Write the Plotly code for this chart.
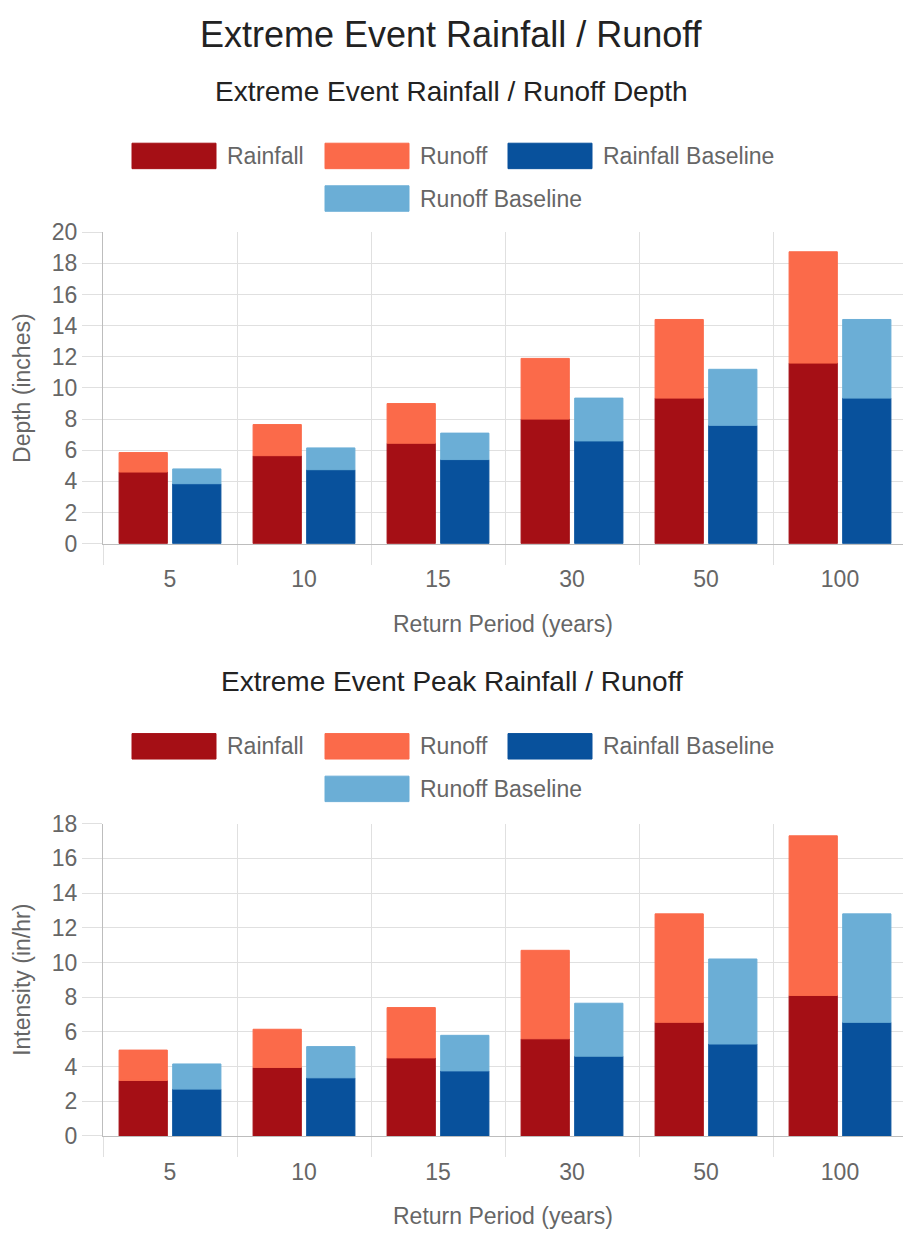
import plotly.graph_objects as go

W, H = 903, 1241

# Return periods shown along the x axis
return_periods = ["5", "10", "15", "30", "50", "100"]

# Rainfall / runoff depth (inches); runoff values are the stacked segment above rainfall
depth_rainfall = [4.6, 5.65, 6.45, 8.0, 9.35, 11.6]
depth_runoff = [1.25, 2.0, 2.55, 3.9, 5.05, 7.15]
depth_rainfall_baseline = [3.85, 4.75, 5.4, 6.6, 7.6, 9.35]
depth_runoff_baseline = [0.95, 1.4, 1.7, 2.75, 3.6, 5.05]

# Peak rainfall / runoff intensity (in/hr)
peak_rainfall = [3.2, 3.95, 4.5, 5.6, 6.55, 8.1]
peak_runoff = [1.75, 2.2, 2.9, 5.1, 6.25, 9.2]
peak_rainfall_baseline = [2.7, 3.35, 3.75, 4.6, 5.3, 6.55]
peak_runoff_baseline = [1.45, 1.8, 2.05, 3.05, 4.9, 6.25]

colors = {
    "Rainfall": "#a50f15",
    "Runoff": "#fb6a4a",
    "Rainfall Baseline": "#08519c",
    "Runoff Baseline": "#6baed6",
}

FONT = "Liberation Sans, Arial, Helvetica, sans-serif"
TEXT_GREY = "#666666"
GRID = "#e0e0e0"
AXIS_LINE = "#bdbdbd"


def px(x):
    return x / W


def py(y):
    return 1 - y / H


fig = go.Figure()


def add_panel(xa, ya, tag, rain, runoff, rain_base, runoff_base):
    fig.add_trace(go.Bar(
        x=return_periods, y=rain, name="Rainfall", offsetgroup="f" + tag,
        marker=dict(color=colors["Rainfall"], line=dict(color=colors["Rainfall"], width=1)),
        xaxis=xa, yaxis=ya, showlegend=False))
    fig.add_trace(go.Bar(
        x=return_periods, y=runoff, base=rain, name="Runoff", offsetgroup="f" + tag,
        marker=dict(color=colors["Runoff"], line=dict(color=colors["Runoff"], width=1)),
        xaxis=xa, yaxis=ya, showlegend=False))
    fig.add_trace(go.Bar(
        x=return_periods, y=rain_base, name="Rainfall Baseline", offsetgroup="b" + tag,
        marker=dict(color=colors["Rainfall Baseline"], line=dict(color=colors["Rainfall Baseline"], width=1)),
        xaxis=xa, yaxis=ya, showlegend=False))
    fig.add_trace(go.Bar(
        x=return_periods, y=runoff_base, base=rain_base, name="Runoff Baseline", offsetgroup="b" + tag,
        marker=dict(color=colors["Runoff Baseline"], line=dict(color=colors["Runoff Baseline"], width=1)),
        xaxis=xa, yaxis=ya, showlegend=False))


add_panel("x", "y", "1", depth_rainfall, depth_runoff, depth_rainfall_baseline, depth_runoff_baseline)
add_panel("x2", "y2", "2", peak_rainfall, peak_runoff, peak_rainfall_baseline, peak_runoff_baseline)

# Plot area geometry (pixels)
PLOT_LEFT = 103
CAT_W = 134.0
x_range = [-0.5, -0.5 + (W - PLOT_LEFT) / CAT_W]
panels = [
    dict(top=224, bottom=542, ymax=20, ytitle="Depth (inches)",
         subtitle="Extreme Event Rainfall / Runoff Depth", sub_y=80, legend_y=146),
    dict(top=828, bottom=1147, ymax=18, ytitle="Intensity (in/hr)",
         subtitle="Extreme Event Peak Rainfall / Runoff", sub_y=683, legend_y=749),
]

tick_font = dict(family=FONT, size=23, color=TEXT_GREY)

for i, p in enumerate(panels):
    sfx = "" if i == 0 else str(i + 1)
    fig.layout["xaxis" + sfx] = dict(
        type="category", domain=[px(PLOT_LEFT), 1], range=x_range,
        anchor="y" + sfx, tickson="boundaries", showgrid=True, gridcolor=GRID,
        ticks="outside", ticklen=20, tickcolor=GRID, tickfont=tick_font,
        ticklabelstandoff=15,
        showline=True, linecolor=AXIS_LINE, linewidth=1, zeroline=False,
        fixedrange=True,
    )
    fig.layout["yaxis" + sfx] = dict(
        domain=[py(p["bottom"]), py(p["top"])], range=[0, p["ymax"]], dtick=2,
        anchor="x" + sfx, showgrid=True, gridcolor=GRID, zeroline=False,
        ticks="outside", ticklen=20, tickcolor=GRID, tickfont=tick_font,
        showline=True, linecolor=AXIS_LINE, linewidth=1, fixedrange=True,
    )

annotations = []
shapes = []

# Main title
annotations.append(dict(
    text="Extreme Event Rainfall / Runoff", x=0.5, y=py(22), xref="paper", yref="paper",
    xanchor="center", yanchor="middle", showarrow=False,
    font=dict(family=FONT, size=36, color="#222222")))

legend_rows = [
    [("Rainfall", 132), ("Runoff", 325), ("Rainfall Baseline", 508)],
    [("Runoff Baseline", 325)],
]

for p in panels:
    annotations.append(dict(
        text=p["subtitle"], x=0.5, y=py(p["sub_y"]), xref="paper", yref="paper",
        xanchor="center", yanchor="middle", showarrow=False,
        font=dict(family=FONT, size=28, color="#222222")))
    annotations.append(dict(
        text=p["ytitle"], x=px(22), y=py((p["top"] + p["bottom"]) / 2),
        xref="paper", yref="paper", xanchor="center", yanchor="middle",
        textangle=-90, showarrow=False, font=tick_font))
    annotations.append(dict(
        text="Return Period (years)", x=px((PLOT_LEFT + W) / 2), y=py(p["bottom"] + 82),
        xref="paper", yref="paper", xanchor="center", yanchor="middle",
        showarrow=False, font=tick_font))
    # Legend with wide colour swatches
    for r, row in enumerate(legend_rows):
        cy = p["legend_y"] + r * 43.5
        for name, left in row:
            shapes.append(dict(
                type="rect", xref="paper", yref="paper",
                x0=px(left), x1=px(left + 84), y0=py(cy + 13), y1=py(cy - 13),
                fillcolor=colors[name], line=dict(color=colors[name], width=1)))
            annotations.append(dict(
                text=name, x=px(left + 93), y=py(cy), xref="paper", yref="paper",
                xanchor="left", yanchor="middle", showarrow=False, font=tick_font))

fig.update_layout(
    width=W, height=H, autosize=False,
    margin=dict(l=0, r=0, t=0, b=0),
    paper_bgcolor="white", plot_bgcolor="white",
    barmode="group", bargap=0.2, bargroupgap=0.1,
    showlegend=False,
    annotations=annotations, shapes=shapes,
    font=dict(family=FONT, color=TEXT_GREY),
)

fig.write_html("out.html", config={"displayModeBar": False})
